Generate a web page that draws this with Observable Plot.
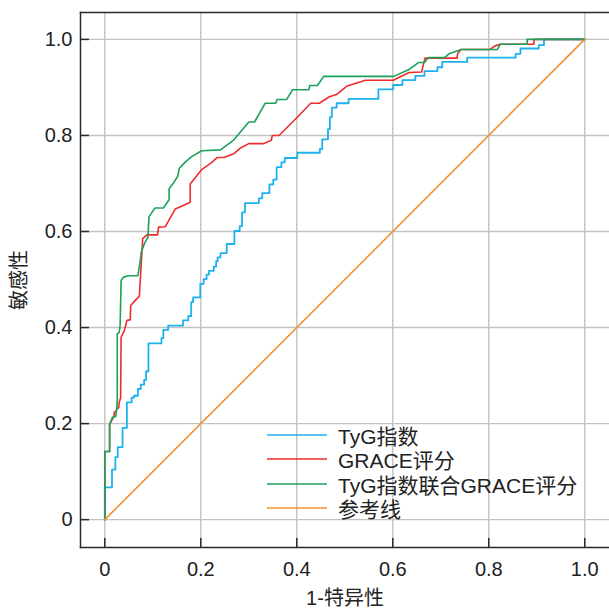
<!DOCTYPE html>
<html><head><meta charset="utf-8">
<script src="https://cdn.jsdelivr.net/npm/d3@7"></script>
<script src="https://cdn.jsdelivr.net/npm/@observablehq/plot@0.6"></script>
<style>
body{margin:0;background:#fff;}
#wrap{position:relative;width:609px;height:608px;}
#wrap > svg{display:block;}
.legend{position:absolute;left:267px;top:422.5px;font-family:"Liberation Sans","Noto Sans CJK SC",sans-serif;font-size:21px;color:#222;}
.legend .row{display:flex;align-items:center;height:24.5px;white-space:nowrap;}
.legend .sw{width:60px;height:4px;margin-right:11px;display:block;}
</style></head>
<body><div id="wrap"></div>
<script>
// Series names and colours
const seriesNames = ["TyG指数", "GRACE评分", "TyG指数联合GRACE评分", "参考线"];
const seriesColors = ["#1db1ee", "#ee2c2c", "#1ba15a", "#f5902e"];
const tickValues = [0, 0.2, 0.4, 0.6, 0.8, 1.0];
const xLabel = "1-特异性";
const yLabel = "敏感性";

// TyG指数 ROC (step corners)
const tygFpr = [0,0.015,0.022,0.027,0.037,0.046,0.056,0.061,0.069,0.075,0.082,0.086,0.091,0.118,0.122,0.132,0.163,0.174,0.180,0.184,0.199,0.206,0.212,0.217,0.227,0.232,0.235,0.241,0.254,0.270,0.281,0.286,0.292,0.321,0.328,0.343,0.351,0.358,0.368,0.375,0.401,0.448,0.453,0.465,0.469,0.473,0.483,0.508,0.570,0.601,0.620,0.647,0.666,0.693,0.703,0.755,0.856,0.866,0.904,0.915,1];
const tygTpr = [0,0.067,0.104,0.130,0.151,0.191,0.244,0.254,0.258,0.272,0.281,0.291,0.309,0.367,0.378,0.395,0.404,0.415,0.424,0.453,0.463,0.491,0.501,0.510,0.518,0.527,0.538,0.546,0.555,0.574,0.601,0.611,0.640,0.659,0.669,0.680,0.698,0.708,0.734,0.744,0.753,0.764,0.772,0.792,0.813,0.838,0.858,0.867,0.876,0.896,0.905,0.915,0.924,0.934,0.942,0.953,0.962,0.970,0.981,0.988,1];

// GRACE评分 ROC
const graceFpr = [0,0,0.010,0.010,0.019,0.020,0.024,0.025,0.029,0.030,0.033,0.034,0.041,0.046,0.053,0.054,0.063,0.072,0.079,0.088,0.110,0.112,0.126,0.147,0.178,0.178,0.202,0.223,0.234,0.248,0.269,0.283,0.300,0.331,0.347,0.349,0.363,0.401,0.429,0.447,0.467,0.484,0.505,0.543,0.601,0.634,0.660,0.667,0.734,0.735,0.742,0.803,0.812,0.824,0.894,0.894,1];
const graceTpr = [0,0.142,0.142,0.198,0.215,0.224,0.226,0.231,0.233,0.244,0.254,0.380,0.394,0.415,0.416,0.446,0.456,0.465,0.585,0.593,0.593,0.609,0.610,0.647,0.661,0.699,0.729,0.744,0.754,0.754,0.762,0.774,0.783,0.783,0.790,0.800,0.800,0.838,0.867,0.867,0.880,0.886,0.903,0.915,0.915,0.931,0.932,0.961,0.961,0.970,0.979,0.979,0.986,0.990,0.990,1,1];

// TyG指数联合GRACE评分 ROC
const comboFpr = [0,0,0.010,0.010,0.016,0.023,0.025,0.026,0.026,0.030,0.032,0.034,0.039,0.049,0.069,0.074,0.076,0.084,0.090,0.092,0.101,0.105,0.122,0.134,0.134,0.143,0.152,0.155,0.167,0.181,0.202,0.241,0.269,0.300,0.312,0.334,0.356,0.359,0.379,0.391,0.425,0.427,0.443,0.456,0.602,0.635,0.654,0.666,0.674,0.708,0.717,0.743,0.818,0.824,0.880,0.880,1];
const comboTpr = [0,0.142,0.142,0.198,0.213,0.215,0.233,0.248,0.387,0.390,0.405,0.498,0.505,0.508,0.508,0.540,0.557,0.578,0.588,0.630,0.644,0.649,0.649,0.666,0.689,0.701,0.715,0.731,0.744,0.756,0.768,0.770,0.791,0.828,0.828,0.867,0.867,0.875,0.875,0.895,0.895,0.904,0.904,0.923,0.923,0.938,0.952,0.952,0.962,0.962,0.970,0.979,0.979,0.990,0.990,1,1];

// 参考线
const refFpr = [0, 1];
const refTpr = [0, 1];

const toRows = (xs, ys) => xs.map((x, i) => ({fpr: x, tpr: ys[i]}));
const tygRows = toRows(tygFpr, tygTpr);
const graceRows = toRows(graceFpr, graceTpr);
const comboRows = toRows(comboFpr, comboTpr);
const refRows = toRows(refFpr, refTpr);

const fmt = d => d === 0 ? "0" : d.toFixed(1);
const font = "'Liberation Sans','Noto Sans CJK SC',sans-serif";
const gridStyle = {stroke: "#c2c2c2", strokeOpacity: 1, strokeWidth: 1.4};
const axisColor = "#2b2b2b";

const chart = Plot.plot({
  width: 609,
  height: 608,
  marginLeft: 80,
  marginRight: 0,
  marginTop: 12,
  marginBottom: 61,
  style: {fontFamily: font, fontSize: "20px", color: "#222", background: "#fff", overflow: "visible"},
  x: {domain: [-0.0506, 1.0515]},
  y: {domain: [-0.058, 1.056]},
  marks: [
    Plot.gridX(tickValues, gridStyle),
    Plot.gridY(tickValues, gridStyle),
    Plot.line(tygRows, {x: "fpr", y: "tpr", stroke: seriesColors[0], strokeWidth: 1.8, curve: "step-before"}),
    Plot.line(graceRows, {x: "fpr", y: "tpr", stroke: seriesColors[1], strokeWidth: 1.6}),
    Plot.line(comboRows, {x: "fpr", y: "tpr", stroke: seriesColors[2], strokeWidth: 1.6}),
    Plot.line(refRows, {x: "fpr", y: "tpr", stroke: seriesColors[3], strokeWidth: 1.6}),
    Plot.frame({anchor: "left", stroke: axisColor, strokeWidth: 1.5}),
    Plot.frame({anchor: "bottom", stroke: axisColor, strokeWidth: 1.5}),
    Plot.frame({anchor: "top", stroke: axisColor, strokeWidth: 1.5}),
    Plot.axisX(tickValues, {tickSize: -9, tickPadding: 23.5, tickFormat: fmt, stroke: axisColor, strokeWidth: 1.5, fill: "#222",
      label: xLabel, labelAnchor: "center", labelArrow: "none", labelOffset: 57.5, fontSize: 20}),
    Plot.axisY(tickValues, {tickSize: -9, tickPadding: 17, tickFormat: fmt, stroke: axisColor, strokeWidth: 1.5, fill: "#222",
      label: yLabel, labelAnchor: "center", labelArrow: "none", labelOffset: 69, fontSize: 20})
  ]
});
const wrap = document.getElementById("wrap");
wrap.appendChild(chart);

// Legend
const NS = "http://www.w3.org/2000/svg";
const legend = document.createElement("div");
legend.className = "legend";
seriesNames.forEach((name, i) => {
  const row = document.createElement("div");
  row.className = "row";
  const sw = document.createElementNS(NS, "svg");
  sw.setAttribute("class", "sw");
  sw.setAttribute("width", "60");
  sw.setAttribute("height", "4");
  const ln = document.createElementNS(NS, "line");
  ln.setAttribute("x1", "0"); ln.setAttribute("x2", "60");
  ln.setAttribute("y1", "2"); ln.setAttribute("y2", "2");
  ln.setAttribute("stroke", seriesColors[i]);
  ln.setAttribute("stroke-width", "1.6");
  sw.appendChild(ln);
  const lab = document.createElement("span");
  lab.textContent = name;
  row.appendChild(sw);
  row.appendChild(lab);
  legend.appendChild(row);
});
wrap.appendChild(legend);
</script>
</body></html>
